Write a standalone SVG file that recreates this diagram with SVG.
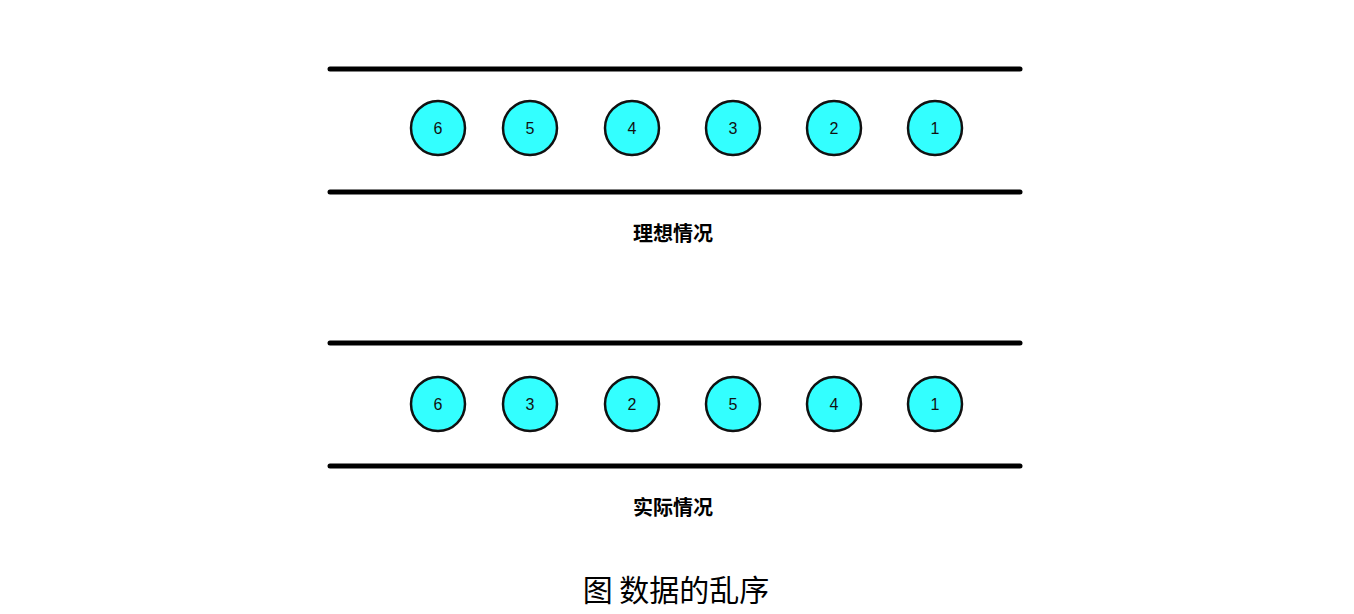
<svg xmlns="http://www.w3.org/2000/svg" width="1354" height="614" viewBox="0 0 1354 614">
<style>
.ln{stroke:#000;stroke-width:5;stroke-linecap:round}
.c{fill:#33ffff;stroke:#111;stroke-width:2.5}
.n{font-family:"Liberation Sans",sans-serif;font-size:16px;text-anchor:middle;dominant-baseline:central;fill:#111}
.lb{font-family:"Noto Sans CJK SC",sans-serif;font-size:20px;font-weight:bold;text-anchor:middle}
.cap{font-family:"Noto Sans CJK SC",serif;font-size:30px;text-anchor:middle}
</style>
<rect width="1354" height="614" fill="#fff"/>
<g id="connectors">
<line class="ln" x1="330" y1="69" x2="1020" y2="69"/>
<line class="ln" x1="330" y1="192" x2="1020" y2="192"/>
<line class="ln" x1="330" y1="343" x2="1020" y2="343"/>
<line class="ln" x1="330" y1="466" x2="1020" y2="466"/>
</g>
<g id="t6"><circle class="c" cx="438" cy="128" r="27"/><text class="n" x="438" y="128">6</text></g>
<g id="t5"><circle class="c" cx="530" cy="128" r="27"/><text class="n" x="530" y="128">5</text></g>
<g id="t4"><circle class="c" cx="632" cy="128" r="27"/><text class="n" x="632" y="128">4</text></g>
<g id="t3"><circle class="c" cx="733" cy="128" r="27"/><text class="n" x="733" y="128">3</text></g>
<g id="t2"><circle class="c" cx="834" cy="128" r="27"/><text class="n" x="834" y="128">2</text></g>
<g id="t1"><circle class="c" cx="935" cy="128" r="27"/><text class="n" x="935" y="128">1</text></g>
<g id="b6"><circle class="c" cx="438" cy="404" r="27"/><text class="n" x="438" y="404">6</text></g>
<g id="b3"><circle class="c" cx="530" cy="404" r="27"/><text class="n" x="530" y="404">3</text></g>
<g id="b2"><circle class="c" cx="632" cy="404" r="27"/><text class="n" x="632" y="404">2</text></g>
<g id="b5"><circle class="c" cx="733" cy="404" r="27"/><text class="n" x="733" y="404">5</text></g>
<g id="b4"><circle class="c" cx="834" cy="404" r="27"/><text class="n" x="834" y="404">4</text></g>
<g id="b1"><circle class="c" cx="935" cy="404" r="27"/><text class="n" x="935" y="404">1</text></g>
<text class="lb" x="673" y="241">理想情况</text>
<text class="lb" x="673" y="515">实际情况</text>
<text class="cap" x="676" y="601">图  数据的乱序</text>
</svg>
